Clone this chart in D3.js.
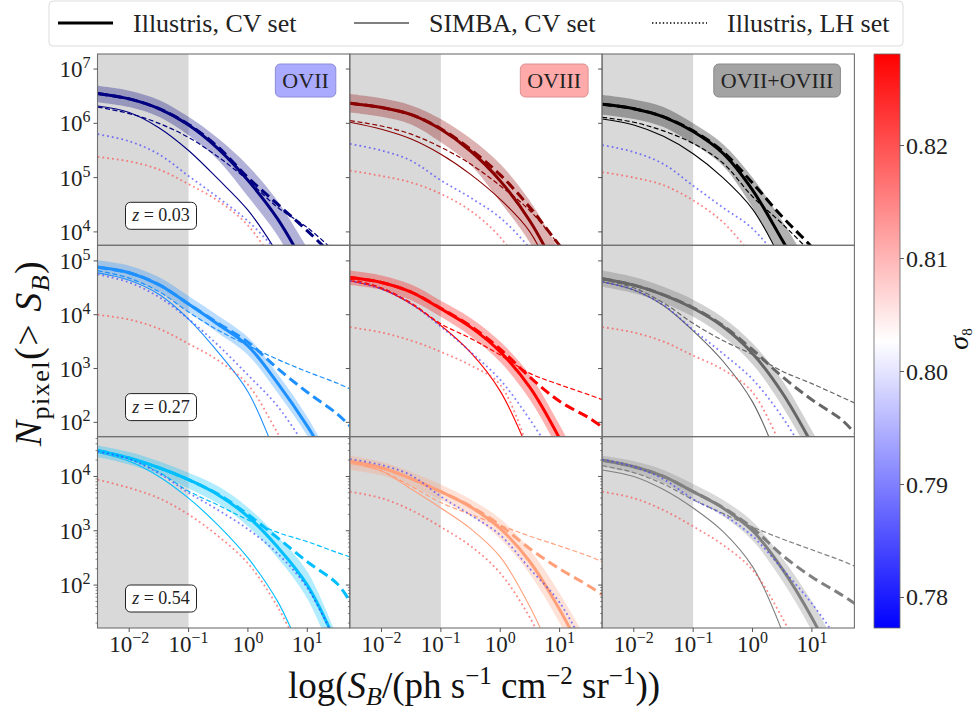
<!DOCTYPE html>
<html>
<head>
<meta charset="utf-8">
<script src="https://cdn.jsdelivr.net/npm/d3@7"></script>
<style>
body { margin: 0; background: #fff; }
svg text { font-family: "Liberation Serif", "DejaVu Serif", "Times New Roman", serif; }
</style>
</head>
<body>
<script>
// sample positions along the x axis, log10(S_B)
var xsLog = [-2.53, -2, -1.5, -1, -0.5, 0, 0.5, 1, 1.5, 1.72]
var ions = ["OVII", "OVIII", "OVII+OVIII"]
var redshifts = ["0.03", "0.27", "0.54"]
var sigma8Ticks = [0.78, 0.79, 0.80, 0.81, 0.82]
var xTickExps = [-2, -1, 0, 1]
var yTickExps = [[4, 5, 6, 7], [2, 3, 4, 5], [2, 3, 4]]

// log10 N_pixel, one list per panel (row = redshift, col = ion)
var illCV = [
    [6.55, 6.45, 6.27, 5.97, 5.53, 4.95, 4.24, 3.3],
    [6.37, 6.29, 6.16, 5.89, 5.49, 4.94, 4.2, 3.2],
    [6.35, 6.27, 6.12, 5.85, 5.45, 4.77, 3.85, 2.9],
    [4.88, 4.78, 4.56, 4.2, 3.82, 3.42, 2.73, 1.93, 1.0],
    [4.69, 4.6, 4.42, 4.11, 3.77, 3.31, 2.65, 1.7],
    [4.67, 4.55, 4.37, 4.12, 3.78, 3.28, 2.55, 1.6],
    [4.48, 4.34, 4.16, 3.94, 3.66, 3.26, 2.7, 2.0, 0.9],
    [4.28, 4.16, 3.96, 3.72, 3.44, 3.04, 2.43, 1.55, 0.5],
    [4.3, 4.18, 4.0, 3.72, 3.42, 3.0, 2.3, 1.4, 0.3]
]
var illHi = [
    [6.69, 6.6, 6.43, 6.12, 5.72, 5.22, 4.57, 3.7, 2.8],
    [6.54, 6.46, 6.33, 6.08, 5.72, 5.25, 4.57, 3.65, 2.7],
    [6.52, 6.44, 6.3, 6.0, 5.62, 5.0, 4.2, 3.3],
    [5.01, 4.91, 4.7, 4.35, 3.98, 3.58, 2.9, 2.1, 1.1],
    [4.82, 4.73, 4.56, 4.26, 3.94, 3.5, 2.88, 1.95, 0.9],
    [4.82, 4.7, 4.52, 4.28, 3.95, 3.47, 2.78, 1.85, 0.9],
    [4.57, 4.45, 4.28, 4.07, 3.82, 3.43, 2.9, 2.25, 1.05],
    [4.38, 4.27, 4.08, 3.85, 3.58, 3.22, 2.65, 1.85, 0.9],
    [4.38, 4.28, 4.12, 3.86, 3.57, 3.17, 2.5, 1.7, 0.7]
]
var illLo = [
    [6.39, 6.3, 6.12, 5.78, 5.32, 4.65, 3.93, 2.95, 2.0],
    [6.2, 6.12, 5.98, 5.65, 5.23, 4.55, 3.8, 2.8, 1.8],
    [6.16, 6.08, 5.93, 5.62, 5.22, 4.45, 3.5, 2.5, 1.5],
    [4.75, 4.65, 4.42, 4.05, 3.66, 3.25, 2.55, 1.75, 0.8],
    [4.55, 4.46, 4.27, 3.96, 3.6, 3.12, 2.42, 1.45, 0.4],
    [4.52, 4.4, 4.22, 3.96, 3.6, 3.08, 2.3, 1.35, 0.4],
    [4.36, 4.22, 4.03, 3.78, 3.5, 3.08, 2.5, 1.75, 0.5],
    [4.12, 4.02, 3.82, 3.56, 3.28, 2.85, 2.2, 1.3, 0.2],
    [4.18, 4.06, 3.88, 3.58, 3.27, 2.82, 2.08, 1.15, 0.0]
]
var illFit = [
    [6.55, 6.45, 6.27, 5.98, 5.56, 5.0, 4.51, 4.02, 3.5, 3.3],
    [6.37, 6.29, 6.16, 5.9, 5.52, 5.05, 4.45, 3.75, 3.1],
    [6.35, 6.27, 6.12, 5.86, 5.48, 4.9, 4.28, 3.72, 3.1],
    [4.88, 4.78, 4.56, 4.2, 3.84, 3.49, 3.0, 2.56, 2.16, 1.93],
    [4.69, 4.6, 4.42, 4.12, 3.79, 3.36, 2.84, 2.39, 2.08, 1.91],
    [4.67, 4.55, 4.37, 4.13, 3.8, 3.35, 2.85, 2.42, 2.05, 1.8],
    [4.48, 4.34, 4.16, 3.94, 3.67, 3.3, 2.87, 2.43, 2.03, 1.7],
    [4.28, 4.16, 3.96, 3.72, 3.45, 3.1, 2.67, 2.3, 1.98, 1.82],
    [4.3, 4.18, 4.0, 3.72, 3.43, 3.05, 2.55, 2.15, 1.82, 1.66]
]
var simCV = [
    [6.32, 6.2, 5.92, 5.5, 4.97, 4.4, 3.6, 2.6],
    [6.02, 5.89, 5.71, 5.43, 5.06, 4.6, 4.0, 2.9],
    [6.08, 5.97, 5.76, 5.44, 5.0, 4.42, 3.45, 2.3],
    [4.78, 4.64, 4.38, 3.92, 3.3, 2.57, 1.3],
    [4.63, 4.48, 4.2, 3.8, 3.3, 2.58, 1.4],
    [4.61, 4.46, 4.17, 3.7, 3.14, 2.38, 1.1],
    [4.44, 4.28, 4.0, 3.6, 3.1, 2.5, 1.7, 0.5],
    [4.24, 4.1, 3.77, 3.42, 3.04, 2.52, 1.6, 0.4],
    [4.12, 4.0, 3.76, 3.42, 2.99, 2.34, 1.15]
]
var simFit = [
    [6.3, 6.18, 6.0, 5.74, 5.38, 4.95, 4.45, 4.08, 3.6],
    [6.05, 5.95, 5.8, 5.56, 5.25, 4.85, 4.39, 3.75, 3.1],
    [6.11, 6.02, 5.86, 5.63, 5.27, 4.65, 4.15, 3.6, 3.0],
    [4.82, 4.68, 4.43, 4.05, 3.71, 3.43, 3.17, 2.94, 2.73, 2.62],
    [4.66, 4.5, 4.22, 3.83, 3.56, 3.25, 2.91, 2.7, 2.51, 2.42],
    [4.65, 4.5, 4.22, 3.84, 3.52, 3.26, 2.95, 2.72, 2.47, 2.36],
    [4.48, 4.32, 4.08, 3.73, 3.47, 3.2, 2.97, 2.8, 2.6, 2.52],
    [4.27, 4.1, 3.82, 3.52, 3.3, 3.1, 2.9, 2.72, 2.53, 2.43],
    [4.2, 4.07, 3.86, 3.57, 3.32, 3.07, 2.85, 2.65, 2.45, 2.35]
]
// Illustris LH set, low and high sigma_8
var lhLow = [
    [5.8, 5.67, 5.43, 5.03, 4.63, 4.2, 3.62, 2.9],
    [5.62, 5.5, 5.31, 4.95, 4.63, 4.26, 3.7, 3.0],
    [5.6, 5.47, 5.25, 4.85, 4.45, 4.06, 3.4, 2.6],
    [4.75, 4.6, 4.33, 3.92, 3.43, 2.88, 2.3, 1.5],
    [4.63, 4.48, 4.2, 3.78, 3.31, 2.79, 2.05, 1.2],
    [4.61, 4.46, 4.18, 3.72, 3.28, 2.8, 2.1, 1.2],
    [4.46, 4.32, 4.06, 3.7, 3.38, 3.03, 2.58, 1.95, 0.9],
    [4.32, 4.21, 4.02, 3.63, 3.29, 2.92, 2.3, 1.68, 0.7],
    [4.31, 4.18, 3.95, 3.58, 3.3, 2.9, 2.3, 1.66, 0.9]
]
var lhHigh = [
    [5.38, 5.3, 5.15, 4.88, 4.57, 4.12, 3.35, 2.6],
    [5.13, 5.03, 4.91, 4.7, 4.39, 3.9, 3.1],
    [5.1, 5.0, 4.86, 4.58, 4.18, 3.55, 2.8],
    [4.0, 3.91, 3.74, 3.46, 3.15, 2.7, 1.8, 0.8],
    [3.77, 3.67, 3.52, 3.31, 3.06, 2.7, 1.4],
    [3.77, 3.67, 3.5, 3.24, 2.98, 2.56, 1.5],
    [3.94, 3.79, 3.6, 3.3, 2.9, 2.4, 1.6, 0.5],
    [3.72, 3.6, 3.38, 3.07, 2.72, 2.22, 1.4, 0.3],
    [3.72, 3.6, 3.38, 3.08, 2.74, 2.28, 1.4, 0.3]
]

var panelColors = ["#000080", "#8b0000", "#000000",
                   "#1e90ff", "#ff0000", "#666666",
                   "#00bfff", "#ffa07a", "#808080"]
var ionBoxFill = ["#aaaaff", "#ffaaaa", "#a3a3a3"]
var ionBoxStroke = ["#8c8cd8", "#d89090", "#8a8a8a"]

var W = 978, H = 711
var serif = "Liberation Serif, DejaVu Serif, serif"
var panelLeft = [97.5, 349.8, 602.1], pw = 252.3
var panelTop = [54, 245.3, 436.7], ph = 191.3
var yLogRange = [[3.753, 7.277], [1.735, 5.29], [1.21, 4.732]]
var xLogRange = [-2.534, 1.716]

var svg = d3.select("body").append("svg")
    .attr("width", W).attr("height", H)
    .attr("font-family", serif)
var defs = svg.append("defs")

// writes 10^e into a text element
function powTen(t, e, base, sup) {
    t.append("tspan").attr("font-size", base).text("10")
    t.append("tspan").attr("font-size", sup).attr("dy", -9)
        .text(e < 0 ? "\u2212" + (-e) : "" + e)
}

for (let r = 0; r < 3; r++) {
    for (let c = 0; c < 3; c++) {
        let k = r * 3 + c
        let L = panelLeft[c], T = panelTop[r]
        let x = d3.scaleLog().domain(xLogRange.map(v => Math.pow(10, v))).range([L, L + pw])
        let y = d3.scaleLog().domain(yLogRange[r].map(v => Math.pow(10, v))).range([T + ph, T])
        let col = panelColors[k]

        defs.append("clipPath").attr("id", "clip" + k)
            .append("rect").attr("x", L).attr("y", T).attr("width", pw).attr("height", ph)
        let g = svg.append("g").attr("clip-path", "url(#clip" + k + ")")

        // excluded low-brightness range
        g.append("rect")
            .attr("x", L).attr("y", T)
            .attr("width", x(0.1) - L).attr("height", ph)
            .attr("fill", "rgba(128,128,128,0.3)")

        let line = d3.line()
            .x((d, i) => x(Math.pow(10, xsLog[i])))
            .y(d => y(Math.pow(10, d)))
            .curve(d3.curveCatmullRom.alpha(0.5))

        // SIMBA
        g.append("path").datum(simCV[k]).attr("d", line)
            .attr("fill", "none").attr("stroke", col).attr("stroke-width", 1.1)
        g.append("path").datum(simFit[k]).attr("d", line)
            .attr("fill", "none").attr("stroke", col).attr("stroke-width", 1.2)
            .attr("stroke-dasharray", "5,2.5")

        // Illustris CV band
        let n = Math.min(illHi[k].length, illLo[k].length)
        let area = d3.area()
            .x(i => x(Math.pow(10, xsLog[i])))
            .y0(i => y(Math.pow(10, illLo[k][i])))
            .y1(i => y(Math.pow(10, illHi[k][i])))
            .curve(d3.curveCatmullRom.alpha(0.5))
        g.append("path").datum(d3.range(n)).attr("d", area)
            .attr("fill", col).attr("fill-opacity", 0.3)

        g.append("path").datum(illCV[k]).attr("d", line)
            .attr("fill", "none").attr("stroke", col).attr("stroke-width", 3)
        g.append("path").datum(illFit[k]).attr("d", line)
            .attr("fill", "none").attr("stroke", col).attr("stroke-width", 3)
            .attr("stroke-dasharray", "10,5")

        // LH set
        g.append("path").datum(lhLow[k]).attr("d", line)
            .attr("fill", "none").attr("stroke", "rgba(60,60,255,0.65)").attr("stroke-width", 1.8)
            .attr("stroke-dasharray", "1.8,3")
        g.append("path").datum(lhHigh[k]).attr("d", line)
            .attr("fill", "none").attr("stroke", "rgba(255,70,70,0.65)").attr("stroke-width", 1.8)
            .attr("stroke-dasharray", "1.8,3")

        // frame
        svg.append("rect").attr("x", L).attr("y", T).attr("width", pw).attr("height", ph)
            .attr("fill", "none").attr("stroke", "#707070").attr("stroke-width", 1.1)

        // y ticks
        yTickExps[r].forEach(e => {
            let yy = y(Math.pow(10, e))
            svg.append("line").attr("x1", L - 4).attr("x2", L).attr("y1", yy).attr("y2", yy)
                .attr("stroke", "#444").attr("stroke-width", 0.9)
            if (c == 0) {
                let t = svg.append("text").attr("x", L - 7).attr("y", yy + 8)
                    .attr("text-anchor", "end").attr("fill", "#222")
                powTen(t, e, 23, 16)
            }
        })
        if (r == 2) {
            // minor ticks
            for (let e = 1; e <= 4; e++) {
                for (let m = 2; m <= 9; m++) {
                    let v = Math.log10(m) + e
                    if (v < yLogRange[r][0] || v > yLogRange[r][1]) continue
                    let yy = y(Math.pow(10, v))
                    svg.append("line").attr("x1", L - 2).attr("x2", L).attr("y1", yy).attr("y2", yy)
                        .attr("stroke", "#444").attr("stroke-width", 0.6)
                }
            }
            xTickExps.forEach(e => {
                let xx = x(Math.pow(10, e))
                svg.append("line").attr("x1", xx).attr("x2", xx).attr("y1", T + ph).attr("y2", T + ph + 4)
                    .attr("stroke", "#444").attr("stroke-width", 0.9)
                let t = svg.append("text").attr("x", xx).attr("y", T + ph + 24)
                    .attr("text-anchor", "middle").attr("fill", "#222")
                powTen(t, e, 23, 16)
            })
        }

        // ion label
        if (r == 0) {
            let lg = svg.append("g")
            let t = lg.append("text").attr("x", L + pw - 14).attr("y", T + 34)
                .attr("text-anchor", "end").attr("font-size", 22).attr("fill", "#222")
                .text(ions[c])
            let tw = t.node().getComputedTextLength()
            t.attr("x", L + pw - 14 - 7)
            lg.insert("rect", "text")
                .attr("x", L + pw - 14 - tw - 14).attr("y", T + 10)
                .attr("width", tw + 14).attr("height", 33).attr("rx", 5)
                .attr("fill", ionBoxFill[c]).attr("stroke", ionBoxStroke[c])
        }

        // redshift label
        if (c == 0) {
            let bx = L + 28, by = T + ph - 43
            svg.append("rect").attr("x", bx).attr("y", by).attr("width", 71).attr("height", 27)
                .attr("rx", 5).attr("fill", "#fff").attr("stroke", "#222").attr("stroke-width", 1)
            let t = svg.append("text").attr("x", bx + 35.5).attr("y", by + 19)
                .attr("text-anchor", "middle").attr("font-size", 18).attr("fill", "#222")
            t.append("tspan").attr("font-style", "italic").text("z")
            t.append("tspan").text(" = " + redshifts[r])
        }
    }
}

// axis labels
var xl = svg.append("text").attr("x", 474).attr("y", 698).attr("text-anchor", "middle")
    .attr("font-size", 37).attr("fill", "#111")
xl.append("tspan").text("log(")
xl.append("tspan").attr("font-style", "italic").text("S")
xl.append("tspan").attr("font-style", "italic").attr("font-size", 26).attr("dy", 7).text("B")
xl.append("tspan").attr("dy", -7).text("/(ph s")
xl.append("tspan").attr("font-size", 25).attr("dy", -14).text("\u22121")
xl.append("tspan").attr("dy", 14).text(" cm")
xl.append("tspan").attr("font-size", 25).attr("dy", -14).text("\u22122")
xl.append("tspan").attr("dy", 14).text(" sr")
xl.append("tspan").attr("font-size", 25).attr("dy", -14).text("\u22121")
xl.append("tspan").attr("dy", 14).text("))")

var yl = svg.append("text").attr("transform", "translate(41,353) rotate(-90)")
    .attr("text-anchor", "middle").attr("font-size", 38).attr("letter-spacing", 1.5).attr("fill", "#111")
yl.append("tspan").attr("font-style", "italic").text("N")
yl.append("tspan").attr("font-size", 26).attr("dy", 8).text("pixel")
yl.append("tspan").attr("dy", -8).text("(> ")
yl.append("tspan").attr("font-style", "italic").text("S")
yl.append("tspan").attr("font-style", "italic").attr("font-size", 26).attr("dy", 8).text("B")
yl.append("tspan").attr("dy", -8).text(")")

// colour bar
var cbX = 874, cbW = 26
var cbScale = d3.scaleLinear().domain([0.7773, 0.8281]).range([628, 54])
var grad = defs.append("linearGradient").attr("id", "bwr")
    .attr("x1", 0).attr("y1", 1).attr("x2", 0).attr("y2", 0)
grad.append("stop").attr("offset", 0).attr("stop-color", "#0000ff")
grad.append("stop").attr("offset", 0.5).attr("stop-color", "#ffffff")
grad.append("stop").attr("offset", 1).attr("stop-color", "#ff0000")
svg.append("rect").attr("x", cbX).attr("y", 54).attr("width", cbW).attr("height", 574)
    .attr("fill", "url(#bwr)").attr("stroke", "#666").attr("stroke-width", 0.8)
sigma8Ticks.forEach(v => {
    let yy = cbScale(v)
    svg.append("line").attr("x1", cbX + cbW).attr("x2", cbX + cbW + 4).attr("y1", yy).attr("y2", yy)
        .attr("stroke", "#444").attr("stroke-width", 0.9)
    svg.append("text").attr("x", cbX + cbW + 6).attr("y", yy + 8)
        .attr("font-size", 24).attr("fill", "#222").text(d3.format(".2f")(v))
})
var sl = svg.append("text").attr("transform", "translate(968,339) rotate(-90)")
    .attr("text-anchor", "middle").attr("font-size", 28).attr("fill", "#111")
sl.append("tspan").attr("font-style", "italic").text("\u03c3")
sl.append("tspan").attr("font-size", 15).attr("dy", 4).text("8")

// legend
svg.append("rect").attr("x", 49).attr("y", 1).attr("width", 854).attr("height", 45).attr("rx", 4)
    .attr("fill", "#fff").attr("stroke", "#dcdcdc")
var legendItems = [
    {label: "Illustris, CV set", x: 58, w: 3, dash: null},
    {label: "SIMBA, CV set", x: 354, w: 1.2, dash: null},
    {label: "Illustris, LH set", x: 652, w: 1.4, dash: "1.4,2.2"}
]
legendItems.forEach(d => {
    svg.append("line").attr("x1", d.x).attr("x2", d.x + 55).attr("y1", 23).attr("y2", 23)
        .attr("stroke", "#000").attr("stroke-width", d.w).attr("stroke-dasharray", d.dash)
    svg.append("text").attr("x", d.x + 75).attr("y", 32)
        .attr("font-size", 26).attr("fill", "#222").text(d.label)
})
</script>
</body>
</html>
